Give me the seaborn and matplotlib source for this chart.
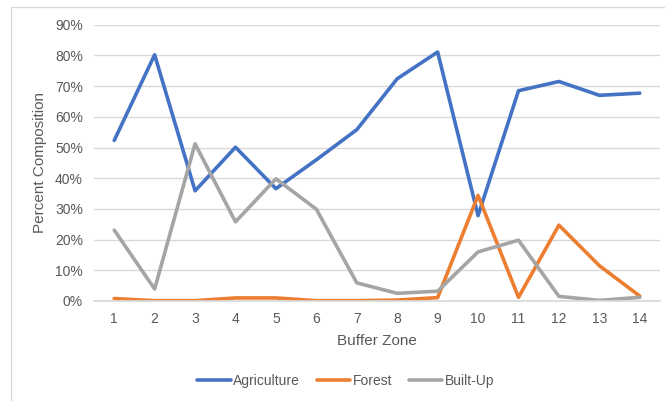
import numpy as np
import pandas as pd
import matplotlib
matplotlib.use("Agg")
import matplotlib.pyplot as plt
import seaborn as sns
from matplotlib.patches import Rectangle
from matplotlib.ticker import PercentFormatter

zones = list(range(1, 15))
agriculture = [52.3, 80.2, 35.9, 50.1, 36.6, 46.0, 55.8, 72.4, 81.1, 27.8, 68.5, 71.5, 67.0, 67.7]
forest = [0.8, 0.1, 0.1, 1.0, 1.0, 0.1, 0.1, 0.3, 1.1, 34.4, 1.2, 24.7, 11.5, 1.6]
built_up = [23.1, 3.9, 51.2, 25.8, 39.8, 29.9, 5.9, 2.5, 3.2, 16.0, 19.8, 1.5, 0.2, 1.2]

series_names = ["Agriculture", "Forest", "Built-Up"]
colors = ["#4472C4", "#ED7D31", "#A5A5A5"]

df = pd.concat([
    pd.DataFrame({"Buffer Zone": zones, "value": vals, "Class": name})
    for name, vals in zip(series_names, [agriculture, forest, built_up])
])

sns.set_theme(style="white")
plt.rcParams["font.family"] = ["Liberation Sans", "DejaVu Sans"]
text_color = "#595959"

fig = plt.figure(figsize=(6.65, 4.01), dpi=100)
ax = fig.add_axes([94 / 665, 1 - 301 / 401, (660 - 94) / 665, (301 - 24.7) / 401])

sns.lineplot(data=df, x="Buffer Zone", y="value", hue="Class",
             palette=dict(zip(series_names, colors)), linewidth=2.6,
             ax=ax, legend=False, sort=False)

ax.set_xlim(0.5, 14.5)
ax.set_ylim(0, 90)
ax.set_yticks(np.arange(0, 91, 10))
ax.yaxis.set_major_formatter(PercentFormatter(decimals=0))
ax.set_xticks(zones)
ax.grid(axis="y", color="#D9D9D9", linewidth=1)
ax.set_axisbelow(True)
for side in ["top", "right", "left"]:
    ax.spines[side].set_visible(False)
ax.spines["bottom"].set_color("#D9D9D9")
ax.tick_params(axis="both", length=0, labelsize=10, colors=text_color, pad=8)
ax.set_xlabel("Buffer Zone", fontsize=11, color=text_color, labelpad=6)
ax.set_ylabel("Percent Composition", fontsize=11, color=text_color, labelpad=6)

handles = [plt.Line2D([], [], color=c, linewidth=2.6) for c in colors]
fig.legend(handles, series_names, loc="center", bbox_to_anchor=(346 / 665, 1 - 381 / 401),
           ncol=3, frameon=False, fontsize=10, labelcolor=text_color,
           handlelength=2.4, columnspacing=1.2, handletextpad=0.2)

fig.patches.append(Rectangle((11 / 665, -0.05), 1.1, 1 - 7 / 401 + 0.05,
                             transform=fig.transFigure, fill=False,
                             edgecolor="#D9D9D9", linewidth=1))

fig.savefig("out.png", dpi=100, facecolor="white")
